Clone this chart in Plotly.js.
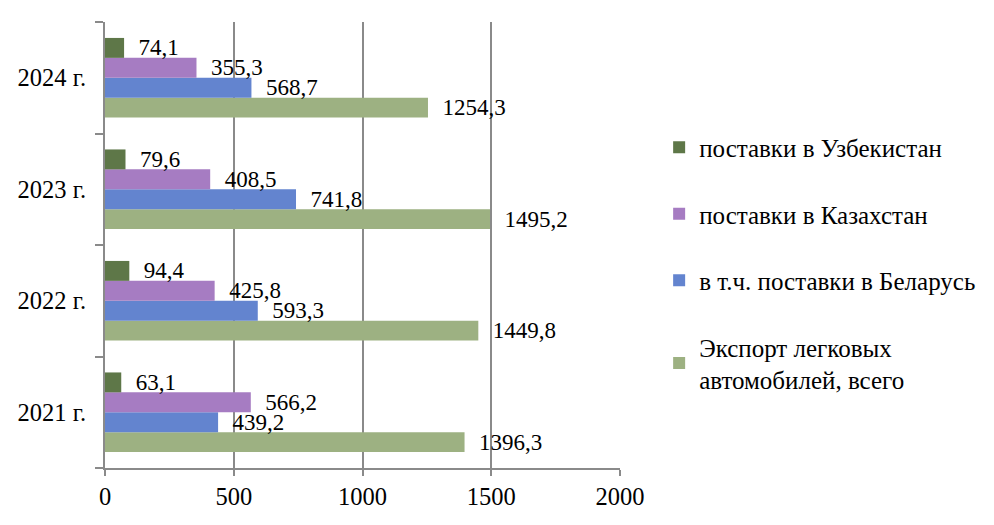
<!DOCTYPE html>
<html>
<head>
<meta charset="utf-8">
<script src="https://cdn.plot.ly/plotly-3.0.1.min.js"></script>
<style>html,body{margin:0;padding:0;background:#fff;}#chart{width:994px;height:525px;}</style>
</head>
<body>
<div id="chart"></div>
<script>
const categories = ["2021 г.", "2022 г.", "2023 г.", "2024 г."];
const exportTotal = [1396.3, 1449.8, 1495.2, 1254.3];
const belarus = [439.2, 593.3, 741.8, 568.7];
const kazakhstan = [566.2, 425.8, 408.5, 355.3];
const uzbekistan = [63.1, 94.4, 79.6, 74.1];
const seriesNames = ["Экспорт легковых<br>автомобилей, всего", "в т.ч. поставки в Беларусь", "поставки в Казахстан", "поставки в Узбекистан"];
const seriesColors = ["#9db182", "#6384cf", "#a67cc2", "#5e7748"];
const xTicks = [0, 500, 1000, 1500, 2000];

const FONT = "'Liberation Serif', serif";
const fmt = v => "\u00a0\u00a0" + v.toFixed(1).replace(".", ",");

const series = [exportTotal, belarus, kazakhstan, uzbekistan];
const data = series.map((vals, i) => ({
  type: "bar",
  orientation: "h",
  name: seriesNames[i],
  y: categories,
  x: vals,
  text: vals.map(fmt),
  textposition: "outside",
  constraintext: "none",
  cliponaxis: false,
  textfont: {family: FONT, size: 23, color: "#000"},
  marker: {color: seriesColors[i]},
  legendgroup: "g" + i,
  legendrank: 10 - i,
  hoverinfo: "x"
}));

const layout = {
  width: 994, height: 525,
  margin: {l: 105, r: 374, t: 22, b: 57},
  paper_bgcolor: "#fff", plot_bgcolor: "#fff",
  barmode: "group",
  bargap: 0.286,
  bargroupgap: 0,
  font: {family: FONT, size: 23, color: "#000"},
  xaxis: {
    range: [0, 2000],
    tickvals: xTicks,
    ticktext: xTicks.map(String),
    showgrid: true, gridcolor: "#8a8a8a", gridwidth: 2,
    showline: true, linecolor: "#8a8a8a", linewidth: 2,
    ticks: "outside", ticklen: 6, tickcolor: "#8a8a8a", tickwidth: 2,
    zeroline: false,
    tickfont: {family: FONT, size: 24.5, color: "#000"},
    fixedrange: true
  },
  yaxis: {
    type: "category",
    categoryorder: "array", categoryarray: categories,
    showgrid: false,
    showline: true, linecolor: "#8a8a8a", linewidth: 2,
    ticks: "outside", tickson: "boundaries", ticklen: 8, tickcolor: "#8a8a8a", tickwidth: 2,
    ticklabelstandoff: 12,
    tickfont: {family: FONT, size: 24.5, color: "#000"},
    fixedrange: true
  },
  showlegend: true,
  legend: {
    x: 1.076, xanchor: "left",
    y: 0.77, yanchor: "top",
    traceorder: "grouped",
    tracegroupgap: 31,
    itemwidth: 30,
    font: {family: FONT, size: 25, color: "#000"},
    bgcolor: "rgba(0,0,0,0)"
  }
};

Plotly.newPlot("chart", data, layout, {displayModeBar: false, staticPlot: true});
</script>
</body>
</html>
